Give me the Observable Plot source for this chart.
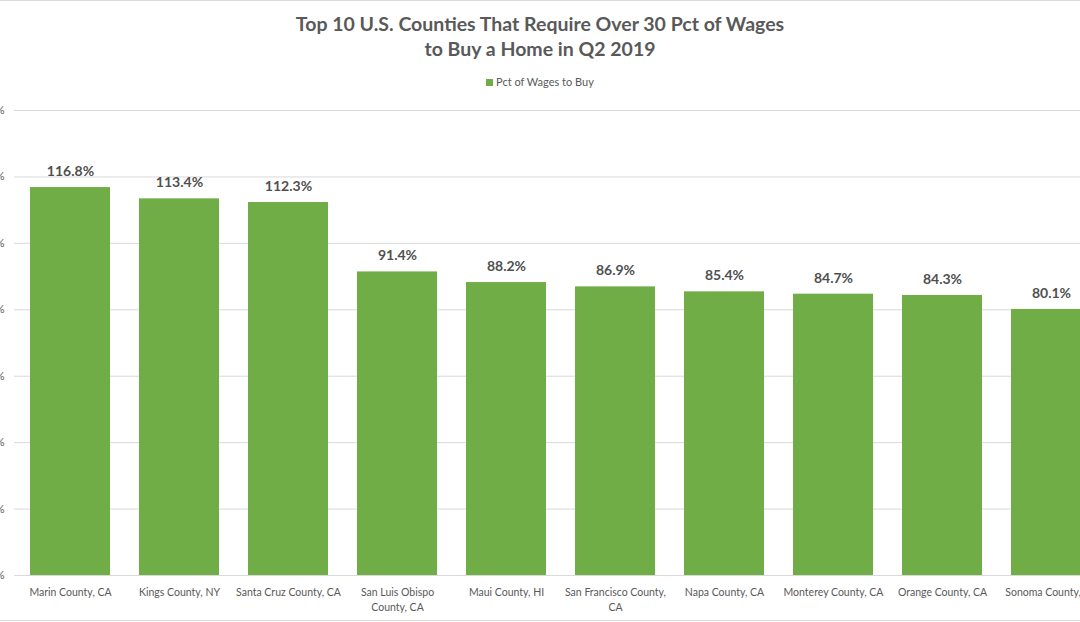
<!DOCTYPE html>
<html>
<head>
<meta charset="utf-8">
<script src="https://cdn.jsdelivr.net/npm/d3@7"></script>
<script src="https://cdn.jsdelivr.net/npm/@observablehq/plot@0.6"></script>
<style>
  html, body { margin: 0; padding: 0; background: #fff; overflow: hidden; }
  #chart {
    position: relative; width: 1080px; height: 621px; box-sizing: border-box;
    border-top: 1px solid #d9d9d9; border-bottom: 1px solid #d9d9d9;
    overflow: hidden; font-family: Lato, "Open Sans", sans-serif; color: #595959;
  }
  #title {
    position: absolute; left: 0; top: 10px; width: 100%; text-align: center;
    font-weight: 700; font-size: 19.5px; line-height: 25px; color: #595959;
  }
  #legend {
    position: absolute; left: 0; top: 74px; width: 100%; text-align: center;
    font-size: 11px; line-height: 14px; color: #595959;
  }
  #legend .swatch {
    display: inline-block; width: 7px; height: 7px; background: #70AD47;
    margin-right: 3px; vertical-align: 0px;
  }
  #plot { position: absolute; left: 0; top: 99px; }
  #plot svg { overflow: hidden; }
</style>
</head>
<body>
<div id="chart">
  <div id="title">Top 10 U.S. Counties That Require Over 30 Pct of Wages<br>to Buy a Home in Q2 2019</div>
  <div id="legend"><span class="swatch"></span>Pct of Wages to Buy</div>
  <div id="plot"></div>
</div>
<script>
// Share of wages needed to buy a home, Q2 2019
const counties = [
  "Marin County, CA", "Kings County, NY", "Santa Cruz County, CA",
  "San Luis Obispo County, CA", "Maui County, HI", "San Francisco County, CA",
  "Napa County, CA", "Monterey County, CA", "Orange County, CA", "Sonoma County, CA"
];
const pctOfWages = [116.8, 113.4, 112.3, 91.4, 88.2, 86.9, 85.4, 84.7, 84.3, 80.1];

// Category labels as they wrap under the bars
const tickLabels = [
  "Marin County, CA", "Kings County, NY", "Santa Cruz County, CA",
  "San Luis Obispo\nCounty, CA", "Maui County, HI", "San Francisco County,\nCA",
  "Napa County, CA", "Monterey County, CA", "Orange County, CA", "Sonoma County, CA"
];
const yTicks = [0, 20, 40, 60, 80, 100, 120, 140];

const data = counties.map((county, i) => ({county, pct: pctOfWages[i]}));
const labelOf = new Map(counties.map((c, i) => [c, tickLabels[i]]));

const chart = Plot.plot({
  width: 1080,
  height: 522,
  marginTop: 10,
  marginBottom: 47,
  marginLeft: 14,
  marginRight: 0,
  style: {fontFamily: "Lato, 'Open Sans', sans-serif", background: "white", overflow: "hidden"},
  x: {domain: counties, range: [14.4, 1106.4], paddingInner: 0.263, paddingOuter: 0.1315, label: null},
  y: {domain: [0, 140], label: null},
  marks: [
    Plot.gridY(yTicks, {stroke: "#d9d9d9", strokeOpacity: 1, strokeWidth: 1}),
    Plot.axisY(yTicks, {
      tickSize: 0, tickPadding: 10, label: null,
      tickFormat: d => d + "%", fontSize: 11, fill: "#595959"
    }),
    Plot.barY(data, {x: "county", y: "pct", fill: "#70AD47"}),
    Plot.text(data, {
      x: "county", y: "pct", text: d => d.pct.toFixed(1) + "%",
      dy: -16, fontSize: 14, fontWeight: "bold", fill: "#505050"
    }),
    Plot.axisX({
      tickSize: 0, tickPadding: 10, label: null,
      tickFormat: d => labelOf.get(d), fontSize: 10.5, lineHeight: 1.4, fill: "#595959"
    })
  ]
});
document.getElementById("plot").append(chart);
</script>
</body>
</html>
